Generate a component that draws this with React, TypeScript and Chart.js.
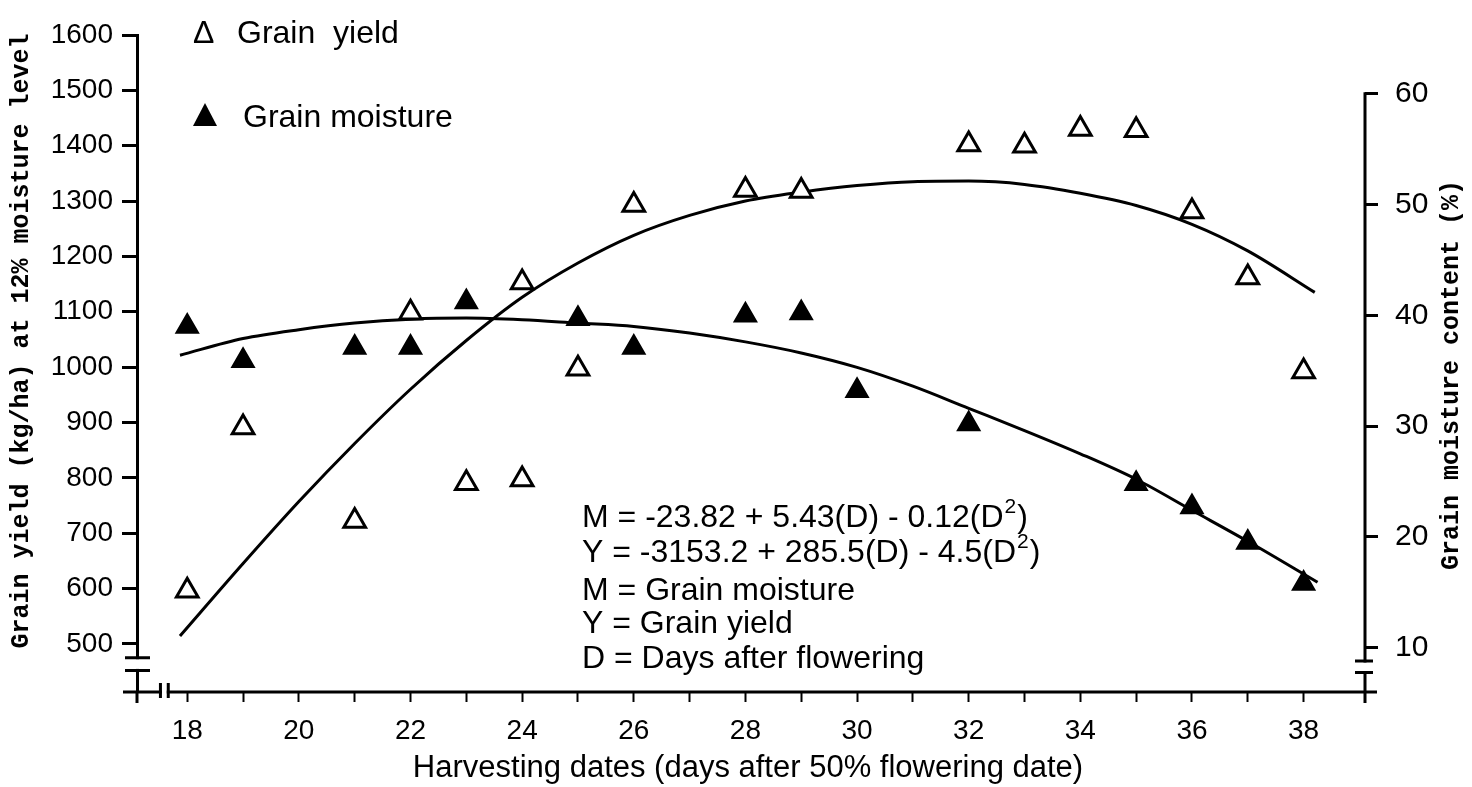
import React, { useEffect, useRef } from 'react';
import { Chart, registerables } from 'chart.js';

Chart.register(...registerables);

// ---------- data ----------
const yieldDays = [18, 19, 21, 22, 23, 24, 24, 25, 26, 28, 29, 32, 33, 34, 35, 36, 37, 38];
const yieldValues = [596, 891, 722, 1098, 790, 797, 1153, 997, 1293, 1320, 1318, 1402, 1400, 1430, 1428, 1281, 1162, 992];

const moistureDays = [18, 19, 21, 22, 23, 25, 26, 28, 29, 30, 32, 35, 36, 37, 38];
const moistureValues = [39.0, 35.9, 37.1, 37.1, 41.2, 39.7, 37.1, 40.0, 40.2, 33.2, 30.2, 24.8, 22.7, 19.5, 15.8];

// fitted curves as drawn in the figure
const yieldCurveDays = [17.87, 19, 20, 21, 22, 23, 24, 25, 26, 27, 28, 29, 30, 31, 32, 33, 34, 35, 36, 37, 38.2];
const yieldCurveValues = [514, 645, 757, 862, 960, 1048, 1126, 1188, 1238, 1274, 1300, 1316, 1328, 1335, 1336, 1330, 1314, 1292, 1258, 1210, 1135];

const moistureCurveDays = [17.87, 19, 20, 21, 22, 23, 24, 25, 26, 27, 28, 29, 30, 31, 32, 33, 34, 35, 36, 37, 38.25];
const moistureCurveValues = [36.4, 37.9, 38.7, 39.3, 39.65, 39.75, 39.6, 39.3, 39.0, 38.4, 37.6, 36.6, 35.3, 33.6, 31.6, 29.6, 27.5, 25.2, 22.4, 19.6, 15.9];

// ticks
const xTicks = [18, 19, 20, 21, 22, 23, 24, 25, 26, 27, 28, 29, 30, 31, 32, 33, 34, 35, 36, 37, 38];
const leftTicks = [500, 600, 700, 800, 900, 1000, 1100, 1200, 1300, 1400, 1500, 1600];
const rightTicks = [10, 20, 30, 40, 50, 60];

// texts
const legendYield = 'Grain  yield';
const legendMoisture = 'Grain moisture';
const xTitle = 'Harvesting dates (days after 50% flowering date)';
const yTitle = 'Grain yield (kg/ha) at 12% moisture level';
const y1Title = 'Grain moisture content (%)';
const equationLines = [
  ['M = -23.82 + 5.43(D) - 0.12(D', '2', ')'],
  ['Y = -3153.2 + 285.5(D) - 4.5(D', '2', ')'],
  ['M = Grain moisture'],
  ['Y = Grain yield'],
  ['D = Days after flowering'],
];

const SANS = "'Liberation Sans', Arial, Helvetica, sans-serif";
const MONO = "'Liberation Mono', 'Courier New', monospace";

const decorPlugin = {
  id: 'decor',
  afterDraw(chart: any) {
    const { ctx, chartArea, scales } = chart;
    const xs = scales.x;
    const ys = scales.y;
    const y1s = scales.y1;
    const L = chartArea.left;
    const R = chartArea.right;
    const B = chartArea.bottom;
    ctx.save();
    ctx.strokeStyle = '#000';
    ctx.fillStyle = '#000';
    ctx.lineWidth = 3;
    ctx.lineCap = 'butt';

    // x axis line (extends a little past both axes)
    ctx.beginPath();
    ctx.moveTo(L - 14, B);
    ctx.lineTo(R + 12, B);
    ctx.stroke();
    // left axis extension below x-axis
    ctx.beginPath();
    ctx.moveTo(L, B);
    ctx.lineTo(L, B + 11);
    ctx.stroke();
    // right axis (starts at top tick)
    const topR = y1s.getPixelForValue(rightTicks[rightTicks.length - 1]);
    ctx.beginPath();
    ctx.moveTo(R, topR - 1.5);
    ctx.lineTo(R, B + 11);
    ctx.stroke();

    // left axis break
    const lb1 = ys.getPixelForValue(475);
    const lb2 = ys.getPixelForValue(452);
    ctx.fillStyle = '#fff';
    ctx.fillRect(L - 3, lb1 + 1.5, 6, lb2 - lb1 - 3);
    ctx.fillStyle = '#000';
    ctx.beginPath();
    ctx.moveTo(L - 12, lb1);
    ctx.lineTo(L + 13, lb1);
    ctx.moveTo(L - 12, lb2);
    ctx.lineTo(L + 13, lb2);
    ctx.stroke();

    // right axis break
    const rb1 = y1s.getPixelForValue(8.8);
    const rb2 = y1s.getPixelForValue(7.75);
    ctx.fillStyle = '#fff';
    ctx.fillRect(R - 3, rb1 + 1.5, 6, rb2 - rb1 - 3);
    ctx.fillStyle = '#000';
    ctx.beginPath();
    ctx.moveTo(R - 10, rb1);
    ctx.lineTo(R + 8, rb1);
    ctx.moveTo(R - 10, rb2);
    ctx.lineTo(R + 8, rb2);
    ctx.stroke();

    // x axis break
    const xb1 = xs.getPixelForValue(17.52);
    const xb2 = xs.getPixelForValue(17.66);
    ctx.fillStyle = '#fff';
    ctx.fillRect(xb1 + 1.5, B - 3, xb2 - xb1 - 3, 6);
    ctx.fillStyle = '#000';
    ctx.beginPath();
    ctx.moveTo(xb1, B - 9);
    ctx.lineTo(xb1, B + 6);
    ctx.moveTo(xb2, B - 9);
    ctx.lineTo(xb2, B + 6);
    ctx.stroke();

    // legend
    ctx.textBaseline = 'alphabetic';
    ctx.textAlign = 'left';
    ctx.font = `32px ${SANS}`;
    ctx.fillText('\u0394', 193, 43);
    ctx.fillText(legendYield, 237, 43);
    ctx.beginPath();
    ctx.moveTo(205, 103);
    ctx.lineTo(217, 126);
    ctx.lineTo(193, 126);
    ctx.closePath();
    ctx.fill();
    ctx.fillText(legendMoisture, 243, 127);

    // equations
    const baselines = [527, 562, 600, 633, 668];
    equationLines.forEach((parts, i) => {
      let x = 582;
      const by = baselines[i];
      ctx.font = `32px ${SANS}`;
      ctx.fillText(parts[0], x, by);
      x += ctx.measureText(parts[0]).width;
      if (parts.length > 1) {
        ctx.font = `21px ${SANS}`;
        ctx.fillText(parts[1], x + 1, by - 14);
        x += ctx.measureText(parts[1]).width + 2;
        ctx.font = `32px ${SANS}`;
        ctx.fillText(parts[2], x, by);
      }
    });

    // x title
    ctx.font = `31px ${SANS}`;
    ctx.textAlign = 'center';
    ctx.fillText(xTitle, 748, 777);

    // y titles (rotated, reading bottom to top)
    ctx.font = `bold 25px ${MONO}`;
    ctx.textBaseline = 'middle';
    ctx.save();
    ctx.translate(22, 341);
    ctx.rotate(-Math.PI / 2);
    ctx.fillText(yTitle, 0, 0);
    ctx.restore();
    ctx.save();
    ctx.translate(1452, 375);
    ctx.rotate(-Math.PI / 2);
    ctx.fillText(y1Title, 0, 0);
    ctx.restore();

    ctx.restore();
  },
};

export default function App() {
  const ref = useRef<HTMLCanvasElement>(null);

  useEffect(() => {
    const canvas = ref.current;
    if (!canvas) return;
    Chart.defaults.font.family = SANS;
    Chart.defaults.color = '#000';

    const chart = new Chart(canvas, {
      type: 'scatter',
      data: {
        datasets: [
          {
            label: 'Grain yield',
            data: yieldDays.map((d, i) => ({ x: d, y: yieldValues[i] })),
            yAxisID: 'y',
            pointStyle: 'triangle',
            pointRadius: 12.5,
            pointBackgroundColor: '#fff',
            pointBorderColor: '#000',
            pointBorderWidth: 3,
            showLine: false,
            order: 0,
          },
          {
            label: 'Grain moisture',
            data: moistureDays.map((d, i) => ({ x: d, y: moistureValues[i] })),
            yAxisID: 'y1',
            pointStyle: 'triangle',
            pointRadius: 12.5,
            pointBackgroundColor: '#000',
            pointBorderColor: '#000',
            pointBorderWidth: 2,
            showLine: false,
            order: 0,
          },
          {
            label: 'Yield fit',
            data: yieldCurveDays.map((d, i) => ({ x: d, y: yieldCurveValues[i] })),
            yAxisID: 'y',
            showLine: true,
            borderColor: '#000',
            borderWidth: 3,
            pointRadius: 0,
            cubicInterpolationMode: 'monotone',
            fill: false,
            order: 1,
          },
          {
            label: 'Moisture fit',
            data: moistureCurveDays.map((d, i) => ({ x: d, y: moistureCurveValues[i] })),
            yAxisID: 'y1',
            showLine: true,
            borderColor: '#000',
            borderWidth: 3,
            pointRadius: 0,
            cubicInterpolationMode: 'monotone',
            fill: false,
            order: 1,
          },
        ],
      } as any,
      options: {
        responsive: false,
        animation: false,
        devicePixelRatio: 1,
        layout: { padding: { top: 23, left: 0, right: 0, bottom: 0 } },
        plugins: {
          legend: { display: false },
          tooltip: { enabled: false },
        },
        scales: {
          x: {
            type: 'linear',
            position: 'bottom',
            min: 17.1,
            max: 39.1,
            afterBuildTicks: (s: any) => {
              s.ticks = xTicks.map((v) => ({ value: v }));
            },
            afterFit: (s: any) => {
              s.height = 95;
            },
            border: { display: false },
            grid: {
              drawOnChartArea: false,
              drawTicks: true,
              tickLength: 10,
              tickWidth: 2,
              tickColor: '#000',
            },
            ticks: {
              autoSkip: false,
              maxRotation: 0,
              padding: 12,
              color: '#000',
              font: { size: 28, family: SANS },
              callback: (v: any) => (Number(v) % 2 === 0 ? String(v) : ''),
            },
          },
          y: {
            type: 'linear',
            position: 'left',
            min: 413,
            max: 1600,
            afterBuildTicks: (s: any) => {
              s.ticks = leftTicks.map((v) => ({ value: v }));
            },
            afterFit: (s: any) => {
              s.width = 137;
            },
            border: { display: true, color: '#000', width: 3 },
            grid: {
              drawOnChartArea: false,
              drawTicks: true,
              tickLength: 15,
              tickWidth: 3,
              tickColor: '#000',
            },
            ticks: {
              padding: 9,
              color: '#000',
              font: { size: 28, family: SANS },
              callback: (v: any) => String(v),
            },
          },
          y1: {
            type: 'linear',
            position: 'right',
            min: 6.0,
            max: 65.3,
            afterBuildTicks: (s: any) => {
              s.ticks = rightTicks.map((v) => ({ value: v }));
            },
            afterFit: (s: any) => {
              s.width = 107;
            },
            border: { display: false },
            grid: {
              drawOnChartArea: false,
              drawTicks: true,
              tickLength: 13,
              tickWidth: 3,
              tickColor: '#000',
            },
            ticks: {
              padding: 17,
              color: '#000',
              font: { size: 30, family: SANS },
              callback: (v: any) => String(v),
            },
          },
        },
      } as any,
      plugins: [decorPlugin],
    });

    return () => chart.destroy();
  }, []);

  return (
    <div style={{ position: 'fixed', left: 0, top: 0, width: 1472, height: 787, background: '#fff' }}>
      <canvas ref={ref} width={1472} height={787} style={{ display: 'block', width: 1472, height: 787 }} />
    </div>
  );
}
